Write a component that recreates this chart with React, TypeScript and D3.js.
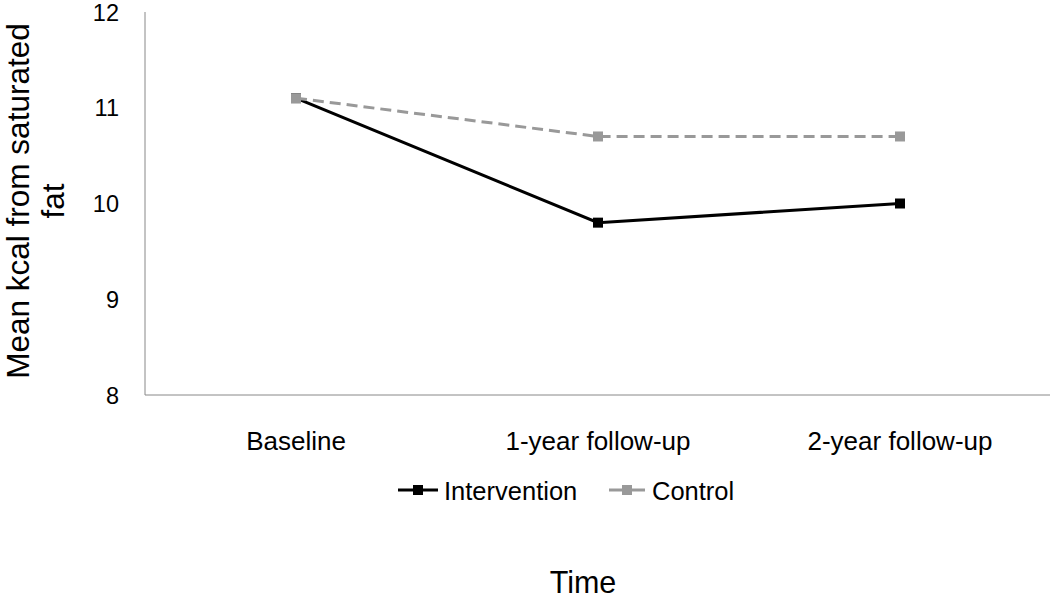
import React from "react";
import * as d3 from "d3";

const categories = ["Baseline", "1-year follow-up", "2-year follow-up"];
const intervention = [11.1, 9.8, 10.0];
const control = [11.1, 10.7, 10.7];
const yTicks = [8, 9, 10, 11, 12];
const seriesNames = ["Intervention", "Control"];

const W = 1050;
const H = 601;
const left = 145;
const right = 1051;
const top = 12;
const bottom = 395;

export default function App() {
  const x = d3.scaleBand<string>().domain(categories).range([left, right]);
  const y = d3.scaleLinear().domain([8, 12]).range([bottom, top]);
  const cx = (c: string) => (x(c) as number) + x.bandwidth() / 2;
  const line = d3
    .line<number>()
    .x((_, i) => cx(categories[i]))
    .y((d) => y(d));
  const font = "'Liberation Sans', Arial, sans-serif";
  const series = [
    { name: seriesNames[0], data: intervention, color: "#000000", dash: "none", width: 3 },
    { name: seriesNames[1], data: control, color: "#999999", dash: "11,6", width: 3 },
  ];
  return (
    <svg
      width={W}
      height={H}
      style={{ position: "absolute", left: 0, top: 0, background: "#fff" }}
      fontFamily={font}
    >
      <line x1={left} x2={left} y1={top} y2={bottom} stroke="#888" strokeWidth={1} />
      <line x1={left} x2={W} y1={bottom} y2={bottom} stroke="#888" strokeWidth={1} />
      {yTicks.map((t) => (
        <text key={t} x={119} y={y(t) + 8.5} textAnchor="end" fontSize={23.5} fill="#000">
          {t}
        </text>
      ))}
      {categories.map((c) => (
        <text key={c} x={cx(c)} y={450} textAnchor="middle" fontSize={26} fill="#000">
          {c}
        </text>
      ))}
      {series.map((s) => (
        <g key={s.name}>
          <path d={line(s.data) || ""} fill="none" stroke={s.color} strokeWidth={s.width} strokeDasharray={s.dash} />
          {s.data.map((v, i) => (
            <rect key={i} x={cx(categories[i]) - 5} y={y(v) - 5} width={10} height={10} fill={s.color} />
          ))}
        </g>
      ))}
      {/* legend */}
      <g>
        <line x1={398} x2={438} y1={490} y2={490} stroke="#000" strokeWidth={3} />
        <rect x={413} y={485} width={10} height={10} fill="#000" />
        <text x={444} y={500} fontSize={25.5} fill="#000">{seriesNames[0]}</text>
        <line x1={609} x2={645} y1={490} y2={490} stroke="#999999" strokeWidth={3} />
        <rect x={622} y={485} width={10} height={10} fill="#999999" />
        <text x={652} y={500} fontSize={25.5} fill="#000">{seriesNames[1]}</text>
      </g>
      <text transform={`translate(29, 201) rotate(-90)`} textAnchor="middle" fontSize={31.5} fill="#000">
        Mean kcal from saturated
      </text>
      <text transform={`translate(64, 201) rotate(-90)`} textAnchor="middle" fontSize={31.5} fill="#000">
        fat
      </text>
      <text x={583} y={593} textAnchor="middle" fontSize={30.5} fill="#000">
        Time
      </text>
    </svg>
  );
}
